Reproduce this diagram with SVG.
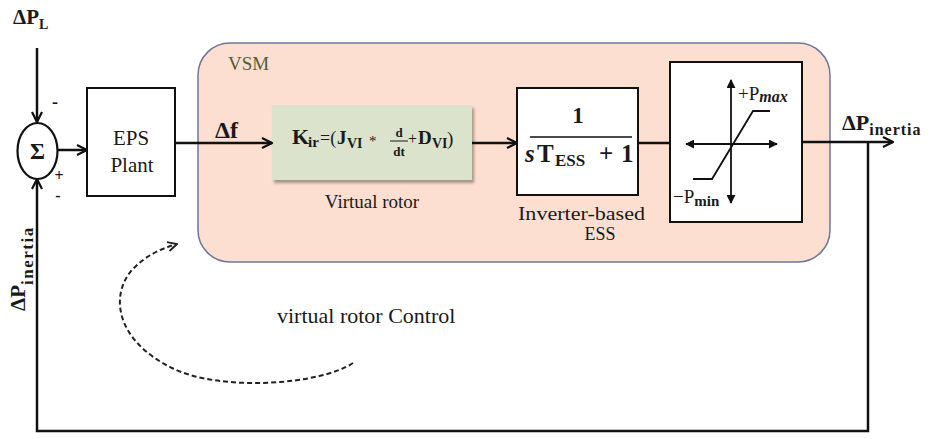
<svg xmlns="http://www.w3.org/2000/svg" width="933" height="439" viewBox="0 0 933 439">
<style>
.t{font-family:"Liberation Serif","DejaVu Serif",serif;fill:#1a1a1a}
.b{font-weight:bold}
.ln{stroke:#111;stroke-width:2.5;fill:none}
.box{fill:#fff;stroke:#111;stroke-width:2}
</style>
<defs>
<marker id="ar" viewBox="0 0 12 12" refX="11" refY="6" markerWidth="12" markerHeight="12" markerUnits="userSpaceOnUse" orient="auto">
<path d="M1,1 L11,6 L1,11" fill="none" stroke="#111" stroke-width="2.2"/>
</marker>
<marker id="tri" viewBox="0 0 10 10" refX="9" refY="5" markerWidth="9" markerHeight="9" markerUnits="userSpaceOnUse" orient="auto-start-reverse">
<path d="M0,0 L10,5 L0,10 Z" fill="#111"/>
</marker>
<marker id="da" viewBox="0 0 12 12" refX="11" refY="6" markerWidth="11" markerHeight="11" markerUnits="userSpaceOnUse" orient="auto">
<path d="M1,1 L11,6 L1,11" fill="none" stroke="#222" stroke-width="2"/>
</marker>
<filter id="sh" x="-5%" y="-5%" width="115%" height="125%">
<feDropShadow dx="2" dy="3" stdDeviation="1.5" flood-color="#000" flood-opacity="0.35"/>
</filter>
</defs>

<g id="vsm">
<rect x="198" y="43" width="632" height="219" rx="32" fill="#fcdfd0" stroke="#6c7896" stroke-width="1.5"/>
<text class="t" x="228" y="70" font-size="19" style="fill:#4f5e34">VSM</text>
</g>

<g id="sum">
<ellipse cx="37.5" cy="151" rx="20" ry="28" fill="#fff" stroke="#111" stroke-width="2.2"/>
<text class="t b" x="37.5" y="159" font-size="23" text-anchor="middle">Σ</text>
<text class="t b" x="55" y="108" font-size="18" text-anchor="middle">-</text>
<text class="t b" x="59" y="181" font-size="16" text-anchor="middle">+</text>
<text class="t b" x="58" y="201" font-size="16" text-anchor="middle">-</text>
</g>

<g id="dpl">
<text class="t b" x="13" y="24" font-size="21">ΔP<tspan font-size="14" dy="5">L</tspan></text>
</g>

<g id="eps">
<rect class="box" x="87" y="88" width="88" height="108"/>
<text class="t" x="131" y="145" font-size="21" text-anchor="middle">EPS</text>
<text class="t" x="132" y="172" font-size="21" text-anchor="middle">Plant</text>
</g>

<g id="rotor">
<rect x="272" y="105" width="200" height="75" fill="#dbe3cd" filter="url(#sh)"/>
<text class="t b" x="292" y="144" font-size="22">K</text>
<text class="t b" x="308" y="147" font-size="15">ir</text>
<text class="t" x="320" y="144" font-size="18">=(</text>
<text class="t b" x="337" y="144" font-size="19">J</text>
<text class="t b" x="347" y="148" font-size="14">VI</text>
<text class="t" x="369" y="146" font-size="15">*</text>
<text class="t b" x="399" y="137" font-size="13" text-anchor="middle">d</text>
<line x1="390" y1="141" x2="408" y2="141" stroke="#1a1a1a" stroke-width="1"/>
<text class="t b" x="399" y="156" font-size="13" text-anchor="middle">dt</text>
<text class="t" x="408" y="144" font-size="16">+</text>
<text class="t b" x="418" y="144" font-size="19">D</text>
<text class="t b" x="432" y="148" font-size="14">VI</text>
<text class="t" x="447" y="145" font-size="19">)</text>
<text class="t" x="372" y="208" font-size="19" text-anchor="middle">Virtual rotor</text>
</g>

<g id="ess">
<rect class="box" x="517" y="88" width="121" height="107"/>
<text class="t b" x="578" y="123" font-size="23" text-anchor="middle">1</text>
<line x1="530" y1="137" x2="632" y2="137" stroke="#111" stroke-width="1.5"/>
<text class="t b" x="525" y="162" font-size="25" font-style="italic">s</text>
<text class="t b" x="537" y="162" font-size="25">T</text>
<text class="t b" x="555" y="166" font-size="17">ESS</text>
<text class="t b" x="599" y="162" font-size="25">+</text>
<text class="t b" x="621" y="162" font-size="25">1</text>
<text class="t" x="518" y="220" font-size="18" textLength="127" lengthAdjust="spacingAndGlyphs">Inverter-based</text>
<text class="t" x="600" y="240" font-size="18" text-anchor="middle">ESS</text>
</g>

<g id="sat">
<rect class="box" x="670" y="62" width="132" height="160"/>
<line x1="731" y1="80" x2="731" y2="203" stroke="#111" stroke-width="1.8" marker-start="url(#tri)" marker-end="url(#tri)"/>
<line x1="686" y1="144" x2="777" y2="144" stroke="#111" stroke-width="1.8" marker-start="url(#tri)" marker-end="url(#tri)"/>
<polyline points="693,179 712,179 753,111 770,111" fill="none" stroke="#111" stroke-width="1.8"/>
<text class="t" x="738" y="100" font-size="19">+P<tspan font-style="italic" font-weight="bold" font-size="16" dy="2">max</tspan></text>
<text class="t" x="673" y="203" font-size="19">−P<tspan font-weight="bold" font-size="15" dy="3">min</tspan></text>
</g>

<g id="labels">
<text class="t b" x="215" y="138" font-size="24">Δf</text>
<text class="t b" x="842" y="130" font-size="22">ΔP<tspan font-size="16" dy="5" letter-spacing="1">inertia</tspan></text>
<text class="t b" transform="translate(25,311) rotate(-90)" font-size="21">ΔP<tspan font-size="17" dy="8" letter-spacing="1.5">inertia</tspan></text>
<text class="t" x="277" y="323" font-size="22">virtual rotor Control</text>
</g>

<g id="connectors">
<line class="ln" x1="37" y1="48" x2="37" y2="122" marker-end="url(#ar)"/>
<line class="ln" x1="58" y1="150" x2="87" y2="150" marker-end="url(#ar)"/>
<line class="ln" x1="175" y1="143" x2="272" y2="143" marker-end="url(#ar)"/>
<line class="ln" x1="472" y1="143" x2="517" y2="143" marker-end="url(#ar)"/>
<line class="ln" x1="638" y1="143" x2="670" y2="143"/>
<line class="ln" x1="802" y1="142" x2="893" y2="142" marker-end="url(#ar)"/>
<polyline class="ln" points="868,142 868,431 37,431 37,179" marker-end="url(#ar)"/>
<path d="M353,363 C320,385 220,392 172,368 C115,340 110,295 132,270 C145,256 160,249 177,244" fill="none" stroke="#222" stroke-width="2" stroke-dasharray="5,3" marker-end="url(#da)"/>
</g>
</svg>
